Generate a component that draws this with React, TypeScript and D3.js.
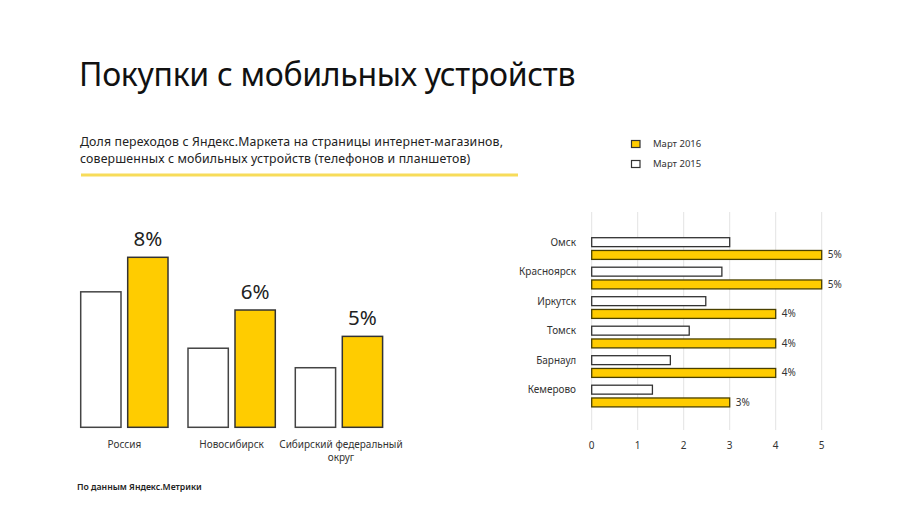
import React from "react";
import * as d3 from "d3";

const regions = ["Россия", "Новосибирск", "Сибирский федеральный округ"];
const regionLines = [["Россия"], ["Новосибирск"], ["Сибирский федеральный", "округ"]];
const regions2015 = [6.69, 4.55, 3.81];
const regions2016 = [8, 6, 5];
const regionLabels = ["8%", "6%", "5%"];

const cities = ["Омск", "Красноярск", "Иркутск", "Томск", "Барнаул", "Кемерово"];
const cities2015 = [3.0, 2.83, 2.48, 2.12, 1.71, 1.32];
const cities2016 = [5, 5, 4, 4, 4, 3];
const cityLabels = ["5%", "5%", "4%", "4%", "4%", "3%"];
const xTicks = [0, 1, 2, 3, 4, 5];

const seriesKeys = ["2015", "2016"];
const legendItems = [
  { key: "2016", label: "Март 2016" },
  { key: "2015", label: "Март 2015" },
];

const YELLOW = "#FFCC00";
const FONT = "'Noto Sans', 'Open Sans', sans-serif";

export default function App() {
  const W = 900, H = 506;

  // Left chart
  const xL = d3.scaleBand<string>().domain(regions).range([70.7, 392.6]).paddingInner(0);
  const xLsub = d3.scaleBand<string>().domain(seriesKeys).range([10, xL.bandwidth() - 10]).paddingInner(0.1426);
  const yL = d3.scaleLinear().domain([1.55, 8]).range([427.3, 257.3]);

  // Right chart
  const xR = d3.scaleLinear().domain([0, 5]).range([591.7, 821.7]);
  const yR = d3.scaleBand<string>().domain(cities).range([233.8, 410.8]).paddingInner(0);
  const yRsub = d3.scaleBand<string>().domain(seriesKeys).range([3.9, yR.bandwidth() - 3.9]).paddingInner(0.3);

  return (
    <svg width={W} height={H} style={{ position: "absolute", left: 0, top: 0, background: "#fff" }} fontFamily={FONT}>
      <rect x={0} y={0} width={W} height={H} fill="#fff" />
      <text x={79} y={86} fontSize={32} letterSpacing={-0.3} fill="#111">Покупки с мобильных устройств</text>
      <text x={80} y={145.5} fontSize={12.3} letterSpacing={0.15} fill="#222">Доля переходов с Яндекс.Маркета на страницы интернет-магазинов,</text>
      <text x={80} y={163} fontSize={12.3} letterSpacing={0.15} fill="#222">совершенных с мобильных устройств (телефонов и планшетов)</text>
      <line x1={81} x2={518} y1={175} y2={175} stroke="#F7DC5A" strokeWidth={3} />

      {/* legend */}
      {legendItems.map((d, i) => (
        <g key={d.key} transform={`translate(631,${140 + i * 20})`}>
          <rect x={0.5} y={0.5} width={8.5} height={7} fill={d.key === "2016" ? YELLOW : "#fff"} stroke="#333" strokeWidth={1.2} />
          <text x={22} y={4} dy="0.35em" fontSize={9.5} fill="#333">{d.label}</text>
        </g>
      ))}

      {/* left bars */}
      {regions.map((r, i) => {
        const x0 = xL(r)!;
        const bw = xLsub.bandwidth();
        const xw = x0 + xLsub("2015")!;
        const xy = x0 + xLsub("2016")!;
        return (
          <g key={r}>
            <rect x={xw} y={yL(regions2015[i])} width={bw} height={yL(1.55) - yL(regions2015[i])} fill="#fff" stroke="#444" strokeWidth={1.5} />
            <rect x={xy} y={yL(regions2016[i])} width={bw} height={yL(1.55) - yL(regions2016[i])} fill={YELLOW} stroke="#333" strokeWidth={1.5} />
            <text x={xy + bw / 2} y={yL(regions2016[i]) - 11} textAnchor="middle" fontSize={20.5} fill="#222">{regionLabels[i]}</text>
            {regionLines[i].map((ln, j) => (
              <text key={j} x={x0 + xL.bandwidth() / 2 + (i === 2 ? 2 : 0)} y={448 + j * 13} textAnchor="middle" fontSize={10} fill="#333">{ln}</text>
            ))}
          </g>
        );
      })}
      <text x={77} y={490} fontSize={8.7} fontWeight={600} fill="#222">По данным Яндекс.Метрики</text>

      {/* right chart grid */}
      {xTicks.map((t) => (
        <g key={t}>
          <line x1={xR(t)} x2={xR(t)} y1={212} y2={430} stroke="#E3E3E3" strokeWidth={1} />
          <text x={xR(t)} y={445} dy="0.35em" textAnchor="middle" fontSize={10} fill="#333">{t}</text>
        </g>
      ))}
      {cities.map((c, i) => {
        const y0 = yR(c)!;
        const bh = yRsub.bandwidth();
        const yw = y0 + yRsub("2015")!;
        const yy = y0 + yRsub("2016")!;
        return (
          <g key={c}>
            <rect x={xR(0)} y={yw} width={xR(cities2015[i]) - xR(0)} height={bh} fill="#fff" stroke="#333" strokeWidth={1.3} />
            <rect x={xR(0)} y={yy} width={xR(cities2016[i]) - xR(0)} height={bh} fill={YELLOW} stroke="#4A4000" strokeWidth={1.3} />
            <text x={576} y={yw + bh / 2} dy="0.35em" textAnchor="end" fontSize={10} fill="#333">{c}</text>
            <text x={xR(cities2016[i]) + 6} y={yy + bh / 2} dy="0.35em" fontSize={10} fill="#333">{cityLabels[i]}</text>
          </g>
        );
      })}
    </svg>
  );
}
